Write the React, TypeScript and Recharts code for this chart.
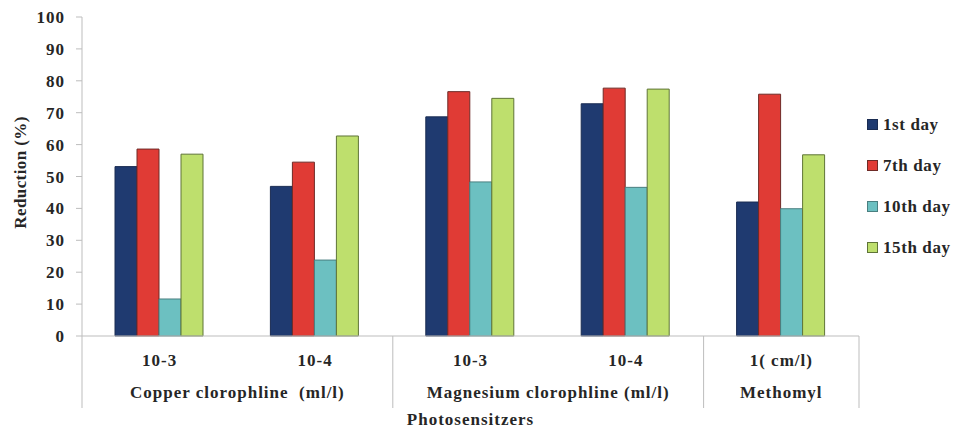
import React from 'react';
import { BarChart, Bar, XAxis, YAxis, Legend } from 'recharts';

const ids = ['cu-3', 'cu-4', 'mg-3', 'mg-4', 'me'];
const doses = ['10-3', '10-4', '10-3', '10-4', '1( cm/l)'];
const groupNames = ['Copper clorophline  (ml/l)', 'Magnesium clorophline (ml/l)', 'Methomyl'];
const groupStarts = [0, 2, 4];
const groupSpans = [2, 2, 1];

const day1 = [53.1, 46.9, 68.7, 72.8, 42.0];
const day7 = [58.6, 54.5, 76.6, 77.7, 75.8];
const day10 = [11.6, 23.8, 48.3, 46.6, 39.9];
const day15 = [57.0, 62.7, 74.5, 77.4, 56.8];

const yTicks = [0, 10, 20, 30, 40, 50, 60, 70, 80, 90, 100];
const seriesKeys = ['d1', 'd7', 'd10', 'd15'];
const seriesNames = ['1st day', '7th day', '10th day', '15th day'];
const seriesColors = ['#1F3A70', '#E03B35', '#6CC0C1', '#BEDF6D'];
const seriesStrokes = ['#1a2c52', '#6e2b27', '#4a7f80', '#5f7437'];

const data = ids.map((id, i) => ({
  id,
  d1: day1[i],
  d7: day7[i],
  d10: day10[i],
  d15: day15[i],
}));

const W = 954;
const H = 428;
const M = { top: 17, right: 95, left: 22, bottom: 0 };
const Y_W = 60;
const X_H = 92;
const FONT = 'Liberation Serif, DejaVu Serif, serif';
const TEXT = '#262626';
const AXIS = '#bdbdbd';
const BAND = (W - M.left - M.right - Y_W) / ids.length;
const TXT = { fontFamily: FONT, fontWeight: 700, fontSize: 17, letterSpacing: 1 };

const CategoryTick = (props: any) => {
  const { x, y, payload } = props;
  const i: number = payload?.index ?? props.index ?? 0;
  const half: number = payload?.offset ? payload.offset : BAND / 2;
  const els: any[] = [];
  els.push(
    <text key="d" x={x} y={y + 30} textAnchor="middle" fill={TEXT} style={TXT}>
      {doses[i]}
    </text>
  );
  const g = groupStarts.indexOf(i);
  if (g >= 0) {
    els.push(
      <line key="s" x1={x - half} x2={x - half} y1={y} y2={y + 72} stroke={AXIS} strokeWidth={1} />
    );
    els.push(
      <text key="g" x={x + (groupSpans[g] - 1) * half} y={y + 62} textAnchor="middle" fill={TEXT}
        style={{ ...TXT, whiteSpace: 'pre' }}>
        {groupNames[g]}
      </text>
    );
  }
  if (i === ids.length - 1) {
    els.push(
      <line key="e" x1={x + half} x2={x + half} y1={y} y2={y + 72} stroke={AXIS} strokeWidth={1} />
    );
  }
  return <g>{els}</g>;
};

const YLabel = (props: any) => {
  const vb = props.viewBox || { x: M.left, y: M.top, width: Y_W, height: 319 };
  const cx = vb.x - 2;
  const cy = vb.y + vb.height / 2 - 4;
  return (
    <text x={cx} y={cy} transform={`rotate(-90, ${cx}, ${cy})`} textAnchor="middle"
      dominantBaseline="central" fill={TEXT} style={{ ...TXT, letterSpacing: 0.4 }}>
      Reduction (%)
    </text>
  );
};

const LegendContent = () => (
  <div style={{ ...TXT, letterSpacing: 0.6, color: TEXT }}>
    {seriesNames.map((n, i) => (
      <div key={n} style={{ height: 41, display: 'flex', alignItems: 'center', paddingLeft: 5, whiteSpace: 'nowrap' }}>
        <span style={{
          display: 'inline-block', width: 9, height: 9, background: seriesColors[i],
          border: `1px solid ${seriesStrokes[i]}`, marginRight: 5, flex: 'none',
        }} />
        <span>{n}</span>
      </div>
    ))}
  </div>
);

export default function App() {
  return (
    <div style={{ position: 'absolute', left: 0, top: 0, width: W, height: H, background: '#fff' }}>
      <BarChart width={W} height={H} data={data} margin={M} barCategoryGap={33} barGap={0}>
        <XAxis dataKey="id" height={X_H} tickLine={false} tickSize={0} tickMargin={0}
          axisLine={{ stroke: AXIS }} tick={<CategoryTick />} interval={0}
          label={{ value: 'Photosensitzers', position: 'insideBottom', offset: 3, fill: TEXT,
            style: TXT }} />
        <YAxis width={Y_W} domain={[0, 100]} ticks={yTicks} interval={0}
          tickSize={6} tickMargin={11} axisLine={{ stroke: AXIS }} tickLine={{ stroke: AXIS }}
          tick={{ fill: TEXT, ...TXT }}
          label={{ content: <YLabel /> }} />
        <Legend layout="vertical" align="center" verticalAlign="middle"
          wrapperStyle={{ left: 862, top: 104, width: 92 }} content={<LegendContent />} />
        {seriesKeys.map((k, i) => (
          <Bar key={k} dataKey={k} name={seriesNames[i]} fill={seriesColors[i]}
            stroke={seriesStrokes[i]} strokeWidth={1} isAnimationActive={false} />
        ))}
      </BarChart>
    </div>
  );
}
